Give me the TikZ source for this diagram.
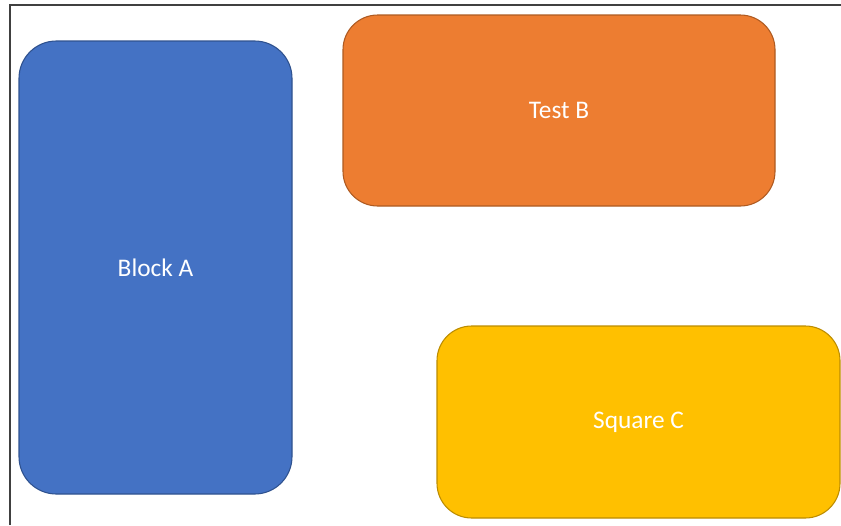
\documentclass[tikz,border=0pt]{standalone}
\usepackage{fontspec}
\setmainfont{Carlito}
\usepackage{xcolor}
\usetikzlibrary{positioning}

\definecolor{blockblue}{HTML}{4472C4}
\definecolor{blockblueline}{HTML}{2F528F}
\definecolor{testorange}{HTML}{ED7D31}
\definecolor{testorangeline}{HTML}{AE5A21}
\definecolor{squareyellow}{HTML}{FFC000}
\definecolor{squareyellowline}{HTML}{BC8C00}

\begin{document}
\begin{tikzpicture}[x=0.75pt,y=-0.75pt,thick,
    box node/.style={rectangle,rounded corners=28pt,line width=0.8pt,text=white,font=\fontsize{19}{23}\selectfont,inner sep=0pt}]
    \useasboundingbox (0,0) rectangle (841,525);
    \draw[line width=1.3pt,black!75] (10,525) -- (10,5) -- (841,5);

    \node[box node,fill=blockblue,draw=blockblueline,minimum width=204.75pt,minimum height=339.75pt] (blockA) at (155.5,267.5) {Block A};
    \node[box node,fill=testorange,draw=testorangeline,minimum width=324pt,minimum height=143.25pt,rounded corners=26pt] (testB) at (559,110.5) {Test B};
    \node[box node,fill=squareyellow,draw=squareyellowline,minimum width=302.25pt,minimum height=144pt,rounded corners=26pt] (squareC) at (638.5,422) {Square C};
  \end{tikzpicture}
\end{document}
